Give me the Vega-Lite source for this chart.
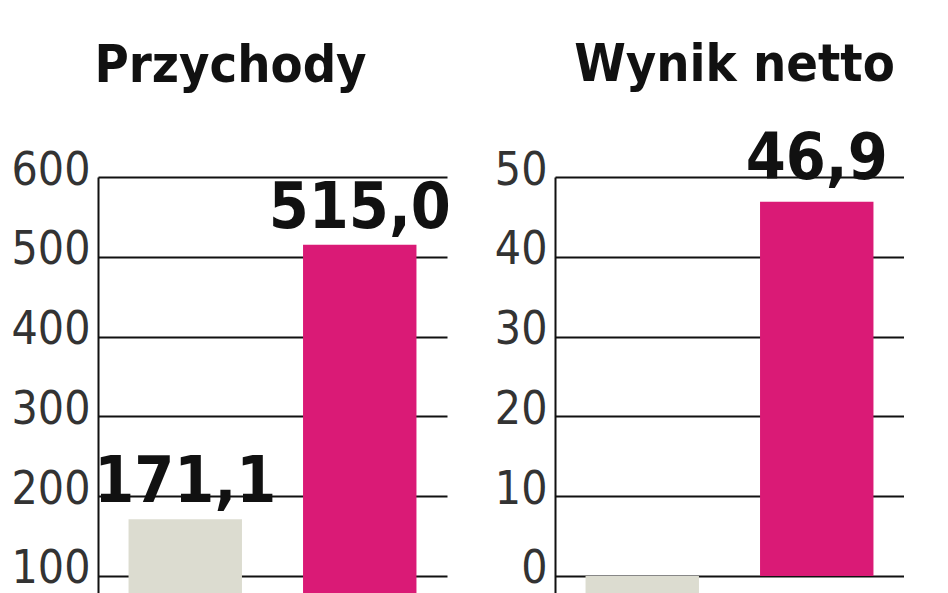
{
  "$schema": "https://vega.github.io/schema/vega-lite/v6.json",
  "background": "white",
  "padding": {"left": 11, "top": 38, "right": 0, "bottom": 0},
  "spacing": 43,
  "datasets": {
    "przychody": [
      {"okres": "okres 1", "wartosc": 171.1},
      {"okres": "okres 2", "wartosc": 515.0}
    ],
    "wynik": [
      {"okres": "okres 1", "wartosc": -3.0},
      {"okres": "okres 2", "wartosc": 46.9}
    ]
  },
  "hconcat": [
    {
      "width": 349,
      "height": 417,
      "title": {"text": "Przychody", "dx": -42, "offset": 54},
      "data": {"name": "przychody"},
      "encoding": {
        "x": {
          "field": "okres",
          "type": "nominal",
          "axis": null,
          "scale": {"paddingInner": 0.35, "paddingOuter": 0.175}
        },
        "y": {
          "field": "wartosc",
          "type": "quantitative",
          "scale": {"domain": [77.4, 600], "nice": false, "zero": false},
          "axis": {"values": [100, 200, 300, 400, 500, 600], "format": "d"}
        }
      },
      "layer": [
        {
          "mark": {"type": "bar", "clip": true},
          "encoding": {
            "color": {
              "field": "okres",
              "type": "nominal",
              "legend": null,
              "scale": {"range": ["#dcdcd0", "#da1a76"]}
            }
          }
        },
        {
          "mark": {"type": "text", "baseline": "alphabetic", "dy": -17},
          "encoding": {"text": {"field": "wartosc", "type": "quantitative", "format": ".1f"}}
        }
      ]
    },
    {
      "width": 349,
      "height": 417,
      "title": {"text": "Wynik netto", "dx": 5, "offset": 36},
      "data": {"name": "wynik"},
      "encoding": {
        "x": {
          "field": "okres",
          "type": "nominal",
          "axis": null,
          "scale": {"paddingInner": 0.35, "paddingOuter": 0.175}
        },
        "y": {
          "field": "wartosc",
          "type": "quantitative",
          "scale": {"domain": [-2.26, 50], "nice": false, "zero": false},
          "axis": {"values": [0, 10, 20, 30, 40, 50], "format": "d"}
        }
      },
      "layer": [
        {
          "mark": {"type": "bar", "clip": true},
          "encoding": {
            "color": {
              "field": "okres",
              "type": "nominal",
              "legend": null,
              "scale": {"range": ["#dcdcd0", "#da1a76"]}
            }
          }
        },
        {
          "transform": [{"filter": "datum.wartosc > 0"}],
          "mark": {"type": "text", "baseline": "alphabetic", "dy": -23},
          "encoding": {"text": {"field": "wartosc", "type": "quantitative", "format": ".1f"}}
        }
      ]
    }
  ],
  "config": {
    "locale": {
      "number": {"decimal": ",", "thousands": " ", "grouping": [3], "currency": ["", " zł"]}
    },
    "view": {"stroke": null},
    "font": "DejaVu Sans Condensed, DejaVu Sans",
    "title": {
      "font": "DejaVu Sans Condensed, DejaVu Sans",
      "fontSize": 52,
      "fontWeight": "bold",
      "color": "#111",
      "anchor": "middle",
      "baseline": "alphabetic"
    },
    "text": {
      "font": "DejaVu Sans Condensed, DejaVu Sans",
      "fontSize": 64,
      "fontWeight": "bold",
      "color": "#111",
      "align": "center"
    },
    "axis": {
      "domainColor": "#111",
      "domainWidth": 2,
      "grid": true,
      "gridColor": "#111",
      "gridWidth": 2,
      "gridOpacity": 1,
      "ticks": false,
      "labelFont": "DejaVu Sans Condensed, DejaVu Sans",
      "labelFontSize": 46,
      "labelColor": "#333",
      "labelPadding": 8,
      "labelBaseline": "alphabetic",
      "labelOffset": 7,
      "labelFlush": false,
      "title": null
    }
  }
}
